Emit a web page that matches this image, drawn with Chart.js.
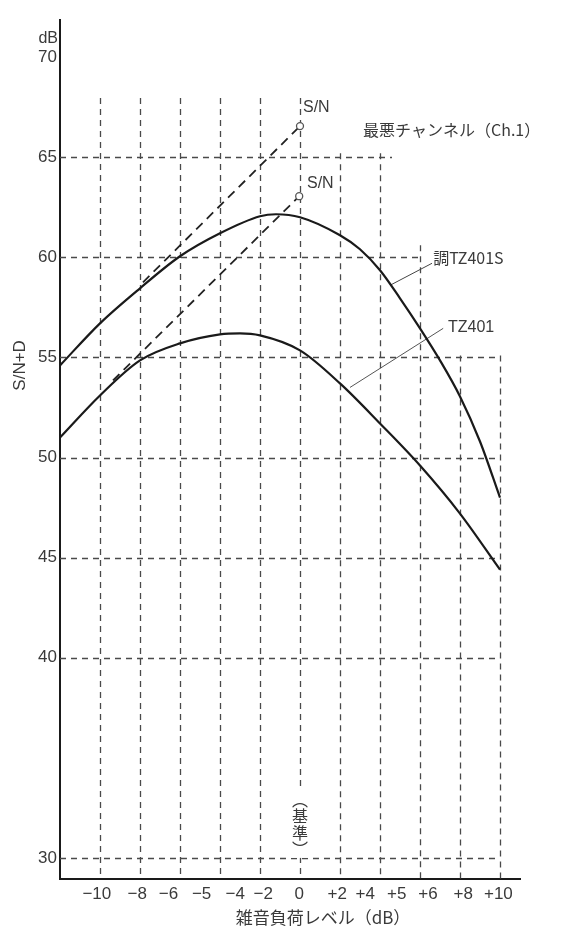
<!DOCTYPE html>
<html>
<head>
<meta charset="utf-8">
<script src="https://cdn.jsdelivr.net/npm/chart.js@4.4.1/dist/chart.umd.min.js"></script>
<style>
html, body { margin: 0; padding: 0; background: #fff; }
#wrap { width: 565px; height: 928px; position: relative; }
</style>
</head>
<body>
<div id="wrap"><canvas id="mycanvas"></canvas></div>
<script>
// x runs in grid steps: one step per vertical dashed line, the -10 line is 0
var tickLabels = ['−10', '−8', '−6', '−5', '−4', '−2', '0', '+2', '+4', '+5', '+6', '+8', '+10'];
var tickPos = [-0.08, 0.93, 1.71, 2.54, 3.38, 4.08, 4.98, 5.93, 6.63, 7.42, 8.2, 9.08, 9.96];
var yTicks = [30, 40, 45, 50, 55, 60, 65, 70];

var tz401sX = [-1, 0, 1, 2, 3, 4, 4.4, 5, 6, 6.5, 7, 7.5, 8, 8.5, 9, 9.5, 10];
var tz401s = [54.6, 56.7, 58.45, 60.05, 61.2, 62.05, 62.15, 62.0, 61.1, 60.4, 59.35, 57.95, 56.45, 54.85, 53.05, 50.8, 48.0];
var tz401X = [-1, 0, 1, 2, 3, 3.5, 4, 5, 6, 7, 8, 9, 10];
var tz401 = [51.0, 53.1, 54.85, 55.7, 56.15, 56.2, 56.1, 55.35, 53.7, 51.7, 49.6, 47.2, 44.4];

var snUpperX = [1.075, 5.0];
var snUpper = [58.75, 66.55];
var snLowerX = [0.325, 4.98];
var snLower = [53.85, 63.05];

var INK = '#1a1a1a';
var TXT = '#3a3a3a';
var LATIN = "'Liberation Sans', Arial, sans-serif";
var CJK = "'Noto Sans CJK JP', 'Noto Sans', sans-serif";

function pts(xs, ys) {
	var out = [];
	for (var i = 0; i < xs.length; i++) out.push({x: xs[i], y: ys[i]});
	return out;
}

// dashed grid, each line has its own extent like on the paper
var gridV = [0, 1, 2, 3, 4, 5, 6, 7, 8, 9, 10];
var gridVTop = [67.95, 67.95, 67.95, 67.95, 67.95, 67.95, 65.2, 65.2, 60.6, 55.1, 55.1];
var gridH = [30, 40, 45, 50, 55, 60, 65];
var gridHEnd = [10, 10, 10, 10, 10, 8.05, 7.3];

var paperGrid = {
	id: 'paperGrid',
	beforeDatasetsDraw: function(chart) {
		var ctx = chart.ctx, x = chart.scales.x, y = chart.scales.y;
		ctx.save();
		ctx.strokeStyle = '#4a4a4a';
		ctx.lineWidth = 1.3;
		ctx.setLineDash([6, 5]);
		for (var i = 0; i < gridV.length; i++) {
			var px = Math.round(x.getPixelForValue(gridV[i])) + 0.5;
			ctx.beginPath();
			ctx.moveTo(px, y.getPixelForValue(gridVTop[i]));
			ctx.lineTo(px, y.bottom);
			ctx.stroke();
		}
		for (var j = 0; j < gridH.length; j++) {
			var py = Math.round(y.getPixelForValue(gridH[j])) + 0.5;
			ctx.beginPath();
			ctx.moveTo(x.left, py);
			ctx.lineTo(x.getPixelForValue(gridHEnd[j]), py);
			ctx.stroke();
		}
		// "(基準)" sits on the 0 line, blank the line behind it
		ctx.fillStyle = '#fff';
		ctx.fillRect(x.getPixelForValue(5) - 9, y.getPixelForValue(32.9) - 9, 18, 67);
		ctx.restore();
	}
};

var notes = {
	id: 'notes',
	afterDraw: function(chart) {
		var ctx = chart.ctx, x = chart.scales.x, y = chart.scales.y;
		function put(txt, u, v, font, align) {
			ctx.font = font;
			ctx.textAlign = align || 'left';
			ctx.fillText(txt, x.getPixelForValue(u), y.getPixelForValue(v));
		}
		ctx.save();
		ctx.fillStyle = TXT;
		ctx.textBaseline = 'middle';
		put('S/N', 5.075, 67.5, '16px ' + LATIN);
		put('S/N', 5.175, 63.7, '16px ' + LATIN);
		put('最悪チャンネル（Ch.1）', 6.575, 66.35, '16px ' + CJK);
		put('調TZ401S', 8.33, 59.95, '16px ' + CJK);
		put('TZ401', 8.7, 56.5, '16px ' + LATIN);
		put('dB', -1.05, 70.9, '16px ' + LATIN, 'right');
		put('雑音負荷レベル（dB）', 5.575, 28.95 - 39 / 20, '17px ' + CJK, 'center');

		// vertical "(基準)"
		var chars = ['︵', '基', '準', '︶'];
		ctx.font = '16px ' + CJK;
		ctx.textAlign = 'center';
		var cx = x.getPixelForValue(5);
		var cy = y.getPixelForValue(32.9);
		for (var k = 0; k < chars.length; k++) ctx.fillText(chars[k], cx, cy + k * 16.5);

		// y title
		ctx.font = '17px ' + LATIN;
		ctx.translate(20, y.getPixelForValue(54.6));
		ctx.rotate(-Math.PI / 2);
		ctx.fillText('S/N+D', 0, 0);
		ctx.restore();
	}
};

var ctx = document.getElementById('mycanvas');

var chart = new Chart(ctx, {
	type: 'line',
	data: {
		datasets: [
			{
				label: '調TZ401S',
				data: pts(tz401sX, tz401s),
				borderColor: INK,
				borderWidth: 2.2,
				pointRadius: 0,
				cubicInterpolationMode: 'monotone'
			},
			{
				label: 'TZ401',
				data: pts(tz401X, tz401),
				borderColor: INK,
				borderWidth: 2.2,
				pointRadius: 0,
				cubicInterpolationMode: 'monotone'
			},
			{
				label: 'S/N (調TZ401S)',
				data: pts(snUpperX, snUpper),
				borderColor: '#222',
				borderWidth: 1.8,
				borderDash: [9, 6],
				pointRadius: [0, 3.5],
				pointBackgroundColor: '#fff',
				pointBorderColor: '#555',
				pointBorderWidth: 1.3,
				tension: 0
			},
			{
				label: 'S/N (TZ401)',
				data: pts(snLowerX, snLower),
				borderColor: '#222',
				borderWidth: 1.8,
				borderDash: [9, 6],
				pointRadius: [0, 3.5],
				pointBackgroundColor: '#fff',
				pointBorderColor: '#555',
				pointBorderWidth: 1.3,
				tension: 0
			},
			{
				label: 'leader 調TZ401S',
				data: pts([7.25, 8.3], [58.6, 59.7]),
				borderColor: '#444',
				borderWidth: 1,
				pointRadius: 0
			},
			{
				label: 'leader TZ401',
				data: pts([6.25, 8.58], [53.5, 56.45]),
				borderColor: '#555',
				borderWidth: 1,
				pointRadius: 0
			}
		]
	},
	options: {
		responsive: true,
		maintainAspectRatio: false,
		animation: false,
		layout: { padding: { top: 20, right: 45, left: 0, bottom: 0 } },
		plugins: {
			legend: { display: false },
			tooltip: { enabled: false }
		},
		scales: {
			x: {
				type: 'linear',
				min: -1,
				max: 10.5,
				grid: { display: false, drawTicks: false },
				border: { display: true, color: INK, width: 2 },
				afterBuildTicks: function(scale) {
					scale.ticks = tickPos.map(function(v) { return {value: v}; });
				},
				afterFit: function(scale) { scale.height = 49; },
				ticks: {
					autoSkip: false,
					maxRotation: 0,
					padding: 5,
					color: TXT,
					font: { family: LATIN, size: 17 },
					callback: function(v, i) { return tickLabels[i]; }
				}
			},
			y: {
				type: 'linear',
				min: 28.95,
				max: 71.85,
				grid: { display: false, drawTicks: false },
				border: { display: true, color: INK, width: 2 },
				afterBuildTicks: function(scale) {
					scale.ticks = yTicks.map(function(v) { return {value: v}; });
				},
				afterFit: function(scale) { scale.width = 60; },
				ticks: {
					padding: 3,
					color: TXT,
					font: { family: LATIN, size: 17 },
					callback: function(v) { return String(v); }
				}
			}
		}
	},
	plugins: [paperGrid, notes]
});
</script>
</body>
</html>
